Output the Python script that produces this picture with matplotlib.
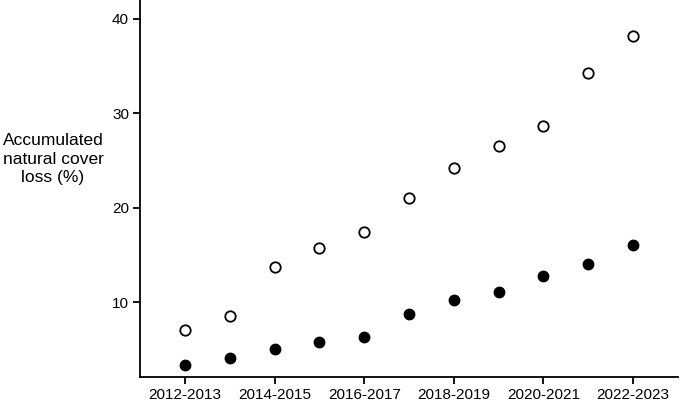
import matplotlib
matplotlib.use('Agg')
import matplotlib.pyplot as plt
import numpy as np

plt.rcParams['font.family'] = ['Liberation Sans', 'DejaVu Sans']

# Seasons (one point per season, labels on every other)
seasons = ['2012-2013', '2013-2014', '2014-2015', '2015-2016', '2016-2017',
           '2017-2018', '2018-2019', '2019-2020', '2020-2021', '2021-2022',
           '2022-2023']

# Accumulated natural cover loss (%)
open_vals = [7.1, 8.6, 13.7, 15.8, 17.4, 21.1, 24.2, 26.5, 28.7, 34.3, 38.2]
filled_vals = [3.4, 4.1, 5.1, 5.8, 6.3, 8.8, 10.3, 11.1, 12.8, 14.1, 16.1]

fig = plt.figure(figsize=(6.8, 4.05), dpi=100)
ax = fig.add_axes([0.206, 0.069, 0.791, 0.931])

x = np.arange(len(seasons))
ax.plot(x, open_vals, 'o', markersize=7.5, markerfacecolor='white',
        markeredgecolor='black', markeredgewidth=1.3, linestyle='none')
ax.plot(x, filled_vals, 'o', markersize=7.5, markerfacecolor='black',
        markeredgecolor='black', linestyle='none')

ax.set_xlim(-1, 11)
ax.set_ylim(2.1, 42)
ax.set_xticks(x[::2])
ax.set_xticklabels(seasons[::2])
ax.set_yticks([10, 20, 30, 40])

for side in ['top', 'right']:
    ax.spines[side].set_visible(False)
for side in ['left', 'bottom']:
    ax.spines[side].set_linewidth(1.3)
ax.tick_params(axis='both', length=5, width=1.3, labelsize=11, pad=3)

fig.text(0.078, 0.607, 'Accumulated\nnatural cover\nloss (%)', ha='center',
         va='center', fontsize=12.5, linespacing=1.3)

plt.savefig('out.png', dpi=100)
plt.close()
